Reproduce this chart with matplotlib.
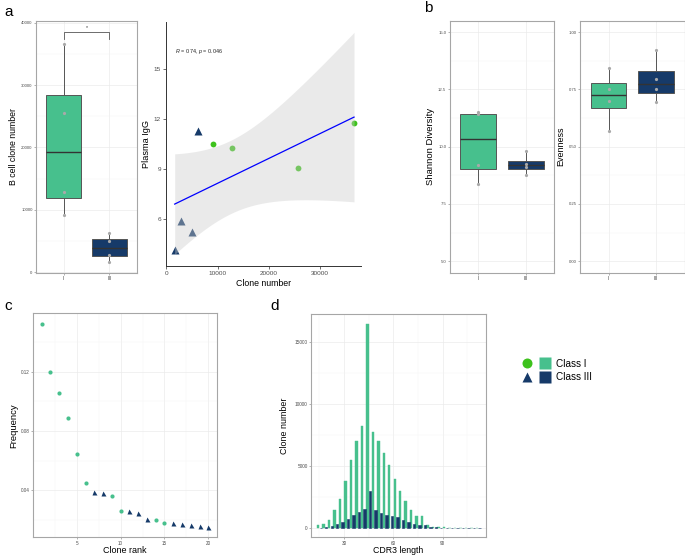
import matplotlib
matplotlib.use('Agg')
import matplotlib.pyplot as plt
import numpy as np
from matplotlib.lines import Line2D
from matplotlib.legend_handler import HandlerTuple
from matplotlib.ticker import MultipleLocator, FormatStrFormatter

plt.rcParams['font.family'] = ['Liberation Sans', 'DejaVu Sans']
plt.rcParams['mathtext.fontset'] = 'custom'
plt.rcParams['mathtext.rm'] = 'Liberation Sans'
plt.rcParams['mathtext.it'] = 'Liberation Sans:italic'

# ---------------- data ----------------
classes = ['I', 'III']
clone_I = [9100, 12800, 25600, 36600]
clone_III = [1600, 2800, 5000, 6200]
igg_I = [10.5, 10.3, 9.1, 11.78]
igg_III = [4.16, 5.9, 5.22, 11.32]

shannon_I = [8.37, 9.22, 11.43, 11.50]
shannon_III = [8.76, 9.12, 9.26, 9.81]
even_I = [0.570, 0.700, 0.754, 0.843]
even_III = [0.694, 0.750, 0.797, 0.923]

rank = [1, 2, 3, 4, 5, 6, 7, 8, 9, 10, 11, 12, 13, 14, 15, 16, 17, 18, 19, 20]
freq = [0.1527, 0.1198, 0.1060, 0.0887, 0.0645, 0.0450, 0.0384, 0.0380, 0.0360,
        0.0261, 0.0259, 0.0247, 0.0208, 0.0198, 0.0178, 0.0176, 0.0171, 0.0163,
        0.0155, 0.0152]
rank_class = ['I', 'I', 'I', 'I', 'I', 'I', 'III', 'III', 'I', 'I', 'III', 'III',
              'III', 'I', 'I', 'III', 'III', 'III', 'III', 'III']

cdr3_len = [15.0, 18.3, 21.7, 25.0, 28.3, 31.7, 35.0, 38.3, 41.7, 45.0, 48.3, 51.7,
            55.0, 58.3, 61.7, 65.0, 68.3, 71.7, 75.0, 78.3, 81.7, 85.0, 88.3, 91.7,
            95.0, 98.3, 101.7, 105.0, 108.3, 111.7]
cdr3_I = [215, 300, 620, 1420, 2310, 3760, 5460, 6990, 8230, 16425, 7690, 7000,
          6000, 5060, 3920, 2970, 2150, 1420, 970, 940, 180, 80, 40, 20, 10, 5, 0, 0, 0, 0]
cdr3_III = [10, 40, 130, 296, 480, 725, 995, 1260, 1480, 2960, 1420, 1210, 995, 915,
            880, 620, 480, 300, 240, 215, 70, 30, 10, 5, 0, 0, 0, 0, 0, 0]

GREEN = '#47C08D'
NAVY = '#163A69'
BRIGHT = '#3DC21C'
TICKC = '#4d4d4d'

W, H = 685, 557
fig = plt.figure(figsize=(W / 100, H / 100), dpi=100)


def add_ax(l, t, r, b):
    return fig.add_axes([l / W, 1 - b / H, (r - l) / W, (b - t) / H])


def bw(ax, fs=2.8):
    for s in ax.spines.values():
        s.set_color('#a6a6a6')
        s.set_linewidth(0.8)
    ax.grid(which='major', color='#ebebeb', lw=0.5)
    ax.grid(which='minor', color='#f5f5f5', lw=0.35)
    ax.set_axisbelow(True)
    ax.tick_params(which='major', length=1.5, width=0.4, color='#777777',
                   labelcolor=TICKC, labelsize=fs, pad=1)
    ax.tick_params(which='minor', length=0)


def boxes(ax, data):
    bp = ax.boxplot(data, positions=[1, 2], widths=0.75, patch_artist=True,
                    showfliers=False, showcaps=False,
                    medianprops=dict(color='#333333', lw=1.0),
                    boxprops=dict(edgecolor='#555555', lw=0.7),
                    whiskerprops=dict(color='#555555', lw=0.7))
    for patch, c in zip(bp['boxes'], [GREEN, NAVY]):
        patch.set_facecolor(c)
    for i, d in enumerate(data):
        ax.plot([i + 1] * len(d), d, 'o', color='#a9a9a9', ms=2.3, mec='none', zorder=5)
    ax.set_xlim(0.4, 2.6)
    ax.set_xticks([1, 2])
    ax.set_xticklabels(classes)
    ax.tick_params(axis='x', labelsize=3.8)


# ---------------- panel a: boxplot ----------------
axa = add_ax(36, 21, 137, 273)
bw(axa, 3.1)
boxes(axa, [clone_I, clone_III])
axa.set_ylim(-150, 40300)
axa.yaxis.set_major_locator(MultipleLocator(10000))
axa.yaxis.set_minor_locator(MultipleLocator(5000))
axa.set_ylabel('B cell clone number', fontsize=6.3, labelpad=2)
axa.plot([1, 1, 2, 2], [37400, 38500, 38500, 37400], color='#555555', lw=0.6)
axa.text(1.5, 38900, '*', ha='center', va='bottom', fontsize=3.8, color='#333333')

# ---------------- panel a: scatter ----------------
axs = add_ax(165.7, 21.7, 360.7, 266)
xall = np.array(clone_I + clone_III, dtype=float)
yall = np.array(igg_I + igg_III, dtype=float)
axs.plot(clone_I, igg_I, 'o', color=BRIGHT, ms=4.2, mec='none', zorder=2)
axs.plot(clone_III, igg_III, '^', color=NAVY, ms=5.2, mec='none', zorder=2)
n = len(xall)
b1, b0 = np.polyfit(xall, yall, 1)
mx = xall.mean()
sxx = ((xall - mx) ** 2).sum()
resid = yall - (b0 + b1 * xall)
s = np.sqrt((resid ** 2).sum() / (n - 2))
tq = 2.4469  # t(0.975, df=6)
xs = np.linspace(xall.min(), xall.max(), 200)
pred = b0 + b1 * xs
se = s * np.sqrt(1 / n + (xs - mx) ** 2 / sxx)
axs.fill_between(xs, pred - tq * se, pred + tq * se, color='#cccccc', alpha=0.4,
                 lw=0, zorder=3)
axs.plot(xs, pred, color='#0000ff', lw=0.9, zorder=4)
axs.set_xlim(-150, 37900)
axs.set_ylim(3.2, 17.86)
axs.set_xticks([0, 10000, 20000, 30000])
axs.set_yticks([6, 9, 12, 15])
for side in ['top', 'right']:
    axs.spines[side].set_visible(False)
for side in ['left', 'bottom']:
    axs.spines[side].set_color('#333333')
    axs.spines[side].set_linewidth(0.7)
axs.tick_params(length=2, width=0.5, color='#333333', labelcolor=TICKC,
                labelsize=4.6, pad=1.5)
axs.set_xlabel('Clone number', fontsize=6.3, labelpad=2)
axs.set_ylabel('Plasma IgG', fontsize=6.6, labelpad=2)
axs.text(1700, 16.06, r'$\it{R}$ = 0.74, $\it{p}$ = 0.046', fontsize=3.9,
         va='center', ha='left', color='#222222')

# ---------------- panel b ----------------
axb1 = add_ax(449.7, 20.7, 554.3, 272.7)
bw(axb1, 3.1)
boxes(axb1, [shannon_I, shannon_III])
axb1.set_ylim(4.5, 15.5)
axb1.yaxis.set_major_locator(MultipleLocator(2.5))
axb1.yaxis.set_minor_locator(MultipleLocator(1.25))
axb1.yaxis.set_major_formatter(FormatStrFormatter('%.1f'))
axb1.set_ylabel('Shannon Diversity', fontsize=6.8, labelpad=2)

axb2 = add_ax(580, 20.7, 684.5, 272.7)
bw(axb2, 3.1)
boxes(axb2, [even_I, even_III])
axb2.set_ylim(-0.05, 1.05)
axb2.yaxis.set_major_locator(MultipleLocator(0.25))
axb2.yaxis.set_minor_locator(MultipleLocator(0.125))
axb2.yaxis.set_major_formatter(FormatStrFormatter('%.2f'))
axb2.set_ylabel('Evenness', fontsize=6.5, labelpad=2)

# ---------------- panel c ----------------
axc = add_ax(33.3, 313.3, 216.7, 537.3)
bw(axc, 3.3)
rI = [r for r, c in zip(rank, rank_class) if c == 'I']
fI = [f for f, c in zip(freq, rank_class) if c == 'I']
rIII = [r for r, c in zip(rank, rank_class) if c == 'III']
fIII = [f for f, c in zip(freq, rank_class) if c == 'III']
axc.plot(rI, fI, 'o', color=GREEN, ms=3.0, mec='none')
axc.plot(rIII, fIII, '^', color=NAVY, ms=3.6, mec='none')
axc.set_xlim(0.05, 20.95)
axc.set_ylim(0.0081, 0.1596)
axc.xaxis.set_major_locator(MultipleLocator(5))
axc.xaxis.set_minor_locator(MultipleLocator(2.5))
axc.set_yticks([0.04, 0.08, 0.12])
axc.yaxis.set_minor_locator(MultipleLocator(0.02))
axc.set_xlabel('Clone rank', fontsize=6.5, labelpad=0.5)
axc.set_ylabel('Frequency', fontsize=6.8, labelpad=2)

# ---------------- panel d ----------------
axd = add_ax(311, 314, 485.7, 537.3)
bw(axd, 3.4)
xl = np.array(cdr3_len)
axd.bar(xl - 0.83, cdr3_I, width=1.5, color=GREEN, edgecolor=GREEN, lw=0.3)
axd.bar(xl + 0.83, cdr3_III, width=1.5, color=NAVY, edgecolor=NAVY, lw=0.4)
axd.set_xlim(9.9, 116.2)
axd.set_ylim(-780, 17230)
axd.set_xticks([30, 60, 90])
axd.xaxis.set_minor_locator(MultipleLocator(15))
axd.yaxis.set_major_locator(MultipleLocator(5000))
axd.yaxis.set_minor_locator(MultipleLocator(2500))
axd.set_xlabel('CDR3 length', fontsize=6.3, labelpad=0.5)
axd.set_ylabel('Clone number', fontsize=6.4, labelpad=4)

# ---------------- legend ----------------
h_c = Line2D([], [], marker='o', color=BRIGHT, ls='none', ms=7.2, mec='none')
h_s1 = Line2D([], [], marker='s', color=GREEN, ls='none', ms=8.6, mec='none')
h_t = Line2D([], [], marker='^', color=NAVY, ls='none', ms=7.6, mec='none')
h_s2 = Line2D([], [], marker='s', color=NAVY, ls='none', ms=8.6, mec='none')
fig.legend(handles=[(h_c, h_s1), (h_t, h_s2)], labels=['Class I', 'Class III'],
           handler_map={tuple: HandlerTuple(ndivide=None, pad=0.6)},
           loc='center left', bbox_to_anchor=(521 / W, 1 - 370.5 / H),
           frameon=False, fontsize=7.2, handlelength=3.0, handletextpad=0.5,
           labelspacing=0.35, borderpad=0, borderaxespad=0)

# ---------------- panel letters ----------------
for lab, px, py in [('a', 4, 12), ('b', 424, 8), ('c', 4, 306), ('d', 270, 306)]:
    fig.text(px / W, 1 - py / H, lab, fontsize=11, ha='left', va='center')

fig.savefig('out.png', dpi=100)
